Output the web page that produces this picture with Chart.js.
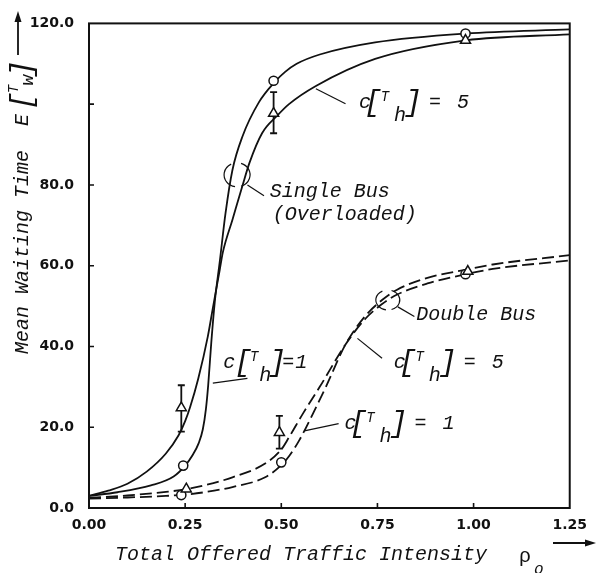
<!DOCTYPE html>
<html>
<head>
<meta charset="utf-8">
<title>Mean Waiting Time vs Offered Traffic</title>
<script src="https://cdn.jsdelivr.net/npm/chart.js@4.4.1/dist/chart.umd.min.js"></script>
<style>
  html, body { margin: 0; padding: 0; background: #fff; }
  #wrap { width: 596px; height: 573px; position: relative; }
</style>
</head>
<body>
<div id="wrap"><canvas id="chart"></canvas></div>
<script>
// axis ranges
const xMin = 0, xMax = 1.25, xStep = 0.25;
const yMin = 0, yMax = 120, yStep = 20;
const yHiddenLabel = 100;

// single bus (overloaded), c[Th] = 1
const singleC1X = [0, 0.074, 0.161, 0.22, 0.25, 0.27, 0.285, 0.296, 0.304, 0.31, 0.318, 0.327, 0.34, 0.355, 0.373, 0.399, 0.442, 0.483, 0.51, 0.54, 0.6, 0.744, 0.98, 1.25];
const singleC1Y = [3.0, 3.9, 5.6, 7.8, 10.5, 13.2, 16, 19.5, 24.5, 30.5, 41, 51, 61, 73, 83.7, 92, 100.5, 105.5, 108, 110, 112.3, 115.3, 117.5, 118.5];

// single bus (overloaded), c[Th] = 5
const singleC5X = [0, 0.05, 0.1, 0.15, 0.2, 0.233, 0.25, 0.263, 0.284, 0.309, 0.322, 0.34, 0.348, 0.373, 0.399, 0.417, 0.45, 0.49, 0.52, 0.59, 0.744, 0.98, 1.25];
const singleC5Y = [3.0, 4.3, 6.0, 9.0, 13.5, 18, 21.5, 25, 32, 42.5, 49.5, 59, 63.3, 71.4, 79.8, 85.4, 92.8, 97.2, 100, 104.5, 111.2, 115.8, 117.3];

// double bus, c[Th] = 1
const doubleC1X = [0, 0.1, 0.2, 0.25, 0.3, 0.373, 0.458, 0.5, 0.52, 0.547, 0.583, 0.616, 0.667, 0.718, 0.762, 0.8, 0.88, 0.98, 1.05, 1.25];
const doubleC1Y = [2.3, 2.6, 3.0, 3.3, 3.9, 5.2, 7.6, 10.6, 12.8, 16.8, 23.5, 30, 40.5, 47.5, 51.5, 54, 57, 59, 60.3, 62.6];

// double bus, c[Th] = 5
const doubleC5X = [0, 0.1, 0.2, 0.25, 0.3, 0.373, 0.458, 0.5, 0.52, 0.557, 0.6, 0.667, 0.718, 0.762, 0.8, 0.88, 0.98, 1.05, 1.25];
const doubleC5Y = [2.5, 3.1, 4.0, 4.6, 5.6, 7.6, 11, 14.5, 17.5, 23.5, 30, 40.5, 46.8, 50.5, 52.8, 55.6, 57.9, 59.2, 61.3];

// simulation results: circles = c[Th] = 1, triangles = c[Th] = 5
const simSingleCircX = [0.245, 0.48, 0.979];
const simSingleCircY = [10.5, 105.8, 117.5];
const simSingleTriX = [0.24, 0.48, 0.979];
const simSingleTriY = [24.8, 97.7, 115.8];
const simSingleTriLo = [18.9, 92.8, null];
const simSingleTriHi = [30.4, 103, null];

const simDoubleCircX = [0.24, 0.5, 0.979];
const simDoubleCircY = [3.2, 11.3, 57.9];
const simDoubleTriX = [0.253, 0.495, 0.985];
const simDoubleTriY = [4.7, 18.7, 58.6];
const simDoubleTriLo = [null, 14.7, null];
const simDoubleTriHi = [null, 22.8, null];

const ink = '#111';
const mono = "'Liberation Mono', 'DejaVu Sans Mono', monospace";

const pts = (xs, ys) => xs.map((x, i) => ({ x: x, y: ys[i] }));

function curve(xs, ys, dashed) {
    return {
        data: pts(xs, ys),
        showLine: true,
        borderColor: ink,
        borderWidth: 1.8,
        borderDash: dashed ? [12, 5] : [],
        pointRadius: 0,
        cubicInterpolationMode: 'monotone',
        order: 2
    };
}

function marks(xs, ys, style) {
    return {
        data: pts(xs, ys),
        showLine: false,
        pointStyle: style,
        pointRadius: style === 'triangle' ? 5.8 : 4.6,
        pointBorderWidth: 1.5,
        pointBorderColor: ink,
        pointBackgroundColor: '#fff',
        order: 1
    };
}

// labels and leader lines, placed in data units
const notes = [
    { type: 'cth', x: 0.71, y: 99.1, val: '5' },
    { type: 'lead', x1: 0.59, y1: 103.8, x2: 0.667, y2: 100.1 },
    { type: 'text', x: 0.47, y: 77.0, text: 'Single Bus' },
    { type: 'text', x: 0.478, y: 71.4, text: '(Overloaded)' },
    { type: 'oval', x: 0.385, y: 82.5, rx: 13, ry: 12 },
    { type: 'lead', x1: 0.412, y1: 80.0, x2: 0.455, y2: 77.3 },
    { type: 'text', x: 0.851, y: 46.6, text: 'Double Bus' },
    { type: 'oval', x: 0.777, y: 51.5, rx: 12, ry: 10 },
    { type: 'lead', x1: 0.803, y1: 49.8, x2: 0.846, y2: 47.4 },
    { type: 'cth', x: 0.8, y: 34.6, val: '5' },
    { type: 'lead', x1: 0.698, y1: 42.0, x2: 0.762, y2: 37.1 },
    { type: 'cth', x: 0.357, y: 34.6, val: '1', compact: true },
    { type: 'lead', x1: 0.322, y1: 30.9, x2: 0.412, y2: 32.1 },
    { type: 'cth', x: 0.672, y: 19.6, val: '1' },
    { type: 'lead', x1: 0.56, y1: 19.1, x2: 0.649, y2: 20.9 }
];

// c[T_h] = n with tall brackets and a subscript h
function drawCTh(ctx, x, y, val, compact) {
    const o = compact ? [17, 28, 39, 51, 62, 75] : [11, 23, 38, 51, 73, 101];
    ctx.textAlign = 'left';
    ctx.font = 'italic 20px ' + mono;
    ctx.fillText('c', x - 3, y);
    ctx.textAlign = 'center';
    ctx.font = 'italic 30px ' + mono;
    ctx.fillText('[', x + o[0], y + 3);
    ctx.font = 'italic 14px ' + mono;
    ctx.fillText('T', x + o[1], y - 7);
    ctx.font = 'italic 20px ' + mono;
    ctx.fillText('h', x + o[2], y + 13);
    ctx.font = 'italic 30px ' + mono;
    ctx.fillText(']', x + o[3], y + 3);
    ctx.font = 'italic 20px ' + mono;
    ctx.fillText('=', x + o[4], y);
    ctx.fillText(val, x + o[5], y);
}

function arrowHead(ctx, x, y, dir) {
    ctx.beginPath();
    if (dir === 'up') {
        ctx.moveTo(x, y); ctx.lineTo(x - 3.5, y + 11); ctx.lineTo(x + 3.5, y + 11);
    } else {
        ctx.moveTo(x, y); ctx.lineTo(x - 11, y - 3.5); ctx.lineTo(x - 11, y + 3.5);
    }
    ctx.closePath();
    ctx.fill();
}

const errorBars = {
    id: 'errorBars',
    beforeDatasetsDraw(chart) {
        const { ctx, scales: { x, y } } = chart;
        const sets = [
            [simSingleTriX, simSingleTriLo, simSingleTriHi],
            [simDoubleTriX, simDoubleTriLo, simDoubleTriHi]
        ];
        ctx.save();
        ctx.strokeStyle = ink;
        ctx.lineWidth = 1.8;
        sets.forEach(([xs, lo, hi]) => {
            xs.forEach((v, i) => {
                if (lo[i] == null) return;
                const px = x.getPixelForValue(v);
                const a = y.getPixelForValue(lo[i]);
                const b = y.getPixelForValue(hi[i]);
                ctx.beginPath();
                ctx.moveTo(px, a); ctx.lineTo(px, b);
                ctx.moveTo(px - 3.5, a); ctx.lineTo(px + 3.5, a);
                ctx.moveTo(px - 3.5, b); ctx.lineTo(px + 3.5, b);
                ctx.stroke();
            });
        });
        ctx.restore();
    }
};

const frame = {
    id: 'frame',
    afterDraw(chart) {
        const { ctx, chartArea: area, scales: { x, y } } = chart;
        ctx.save();
        ctx.strokeStyle = ink;
        ctx.fillStyle = ink;

        // plot box and inward ticks
        ctx.lineWidth = 2;
        ctx.strokeRect(area.left, area.top, area.right - area.left, area.bottom - area.top);
        ctx.lineWidth = 1.6;
        ctx.beginPath();
        for (let v = xMin + xStep; v < xMax; v += xStep) {
            const px = x.getPixelForValue(v);
            ctx.moveTo(px, area.bottom); ctx.lineTo(px, area.bottom - 5);
        }
        for (let v = yMin + yStep; v < yMax; v += yStep) {
            const py = y.getPixelForValue(v);
            ctx.moveTo(area.left, py); ctx.lineTo(area.left + 5, py);
        }
        ctx.stroke();

        // annotations
        ctx.textBaseline = 'alphabetic';
        notes.forEach(n => {
            if (n.type === 'lead') {
                ctx.lineWidth = 1.2;
                ctx.beginPath();
                ctx.moveTo(x.getPixelForValue(n.x1), y.getPixelForValue(n.y1));
                ctx.lineTo(x.getPixelForValue(n.x2), y.getPixelForValue(n.y2));
                ctx.stroke();
            } else if (n.type === 'oval') {
                const cx = x.getPixelForValue(n.x), cy = y.getPixelForValue(n.y);
                ctx.lineWidth = 1.2;
                ctx.beginPath();
                ctx.ellipse(cx, cy, n.rx, n.ry, 0, 0.55 * Math.PI, 1.35 * Math.PI);
                ctx.stroke();
                ctx.beginPath();
                ctx.ellipse(cx, cy, n.rx, n.ry, 0, 1.6 * Math.PI, 2.4 * Math.PI);
                ctx.stroke();
            } else if (n.type === 'text') {
                ctx.textAlign = 'left';
                ctx.font = 'italic 20px ' + mono;
                ctx.fillText(n.text, x.getPixelForValue(n.x), y.getPixelForValue(n.y));
            } else if (n.type === 'cth') {
                drawCTh(ctx, x.getPixelForValue(n.x), y.getPixelForValue(n.y), n.val, n.compact);
            }
        });

        // x axis title with arrow
        ctx.textAlign = 'left';
        ctx.font = 'italic 20px ' + mono;
        ctx.fillText('Total Offered Traffic Intensity', 115, 560);
        ctx.font = '20px ' + mono;
        ctx.fillText('\u03C1', 519, 562);
        ctx.font = 'italic 16px ' + mono;
        ctx.fillText('o', 534, 574);
        ctx.lineWidth = 1.8;
        ctx.beginPath();
        ctx.moveTo(553, 543); ctx.lineTo(586, 543);
        ctx.stroke();
        arrowHead(ctx, 596, 543, 'right');

        // y axis title, rotated, with arrow
        ctx.save();
        ctx.translate(28, 354);
        ctx.rotate(-Math.PI / 2);
        ctx.textAlign = 'left';
        ctx.font = 'italic 20px ' + mono;
        ctx.fillText('Mean Waiting Time  E', 0, 0);
        ctx.textAlign = 'center';
        ctx.font = 'italic 30px ' + mono;
        ctx.fillText('[', 253, 3);
        ctx.font = 'italic 14px ' + mono;
        ctx.fillText('T', 265, -10);
        ctx.font = 'italic 18px ' + mono;
        ctx.fillText('w', 274, 5);
        ctx.font = 'italic 30px ' + mono;
        ctx.fillText(']', 285, 3);
        ctx.restore();
        ctx.lineWidth = 1.8;
        ctx.beginPath();
        ctx.moveTo(18, 55); ctx.lineTo(18, 20);
        ctx.stroke();
        arrowHead(ctx, 18, 11, 'up');

        ctx.restore();
    }
};

const tickFont = { family: "'DejaVu Sans', sans-serif", size: 14, weight: 'bold' };

new Chart(document.getElementById('chart'), {
    type: 'scatter',
    data: {
        datasets: [
            curve(singleC1X, singleC1Y, false),
            curve(singleC5X, singleC5Y, false),
            curve(doubleC1X, doubleC1Y, true),
            curve(doubleC5X, doubleC5Y, true),
            marks(simSingleTriX, simSingleTriY, 'triangle'),
            marks(simSingleCircX, simSingleCircY, 'circle'),
            marks(simDoubleTriX, simDoubleTriY, 'triangle'),
            marks(simDoubleCircX, simDoubleCircY, 'circle')
        ]
    },
    options: {
        responsive: true,
        maintainAspectRatio: false,
        animation: false,
        layout: { padding: { top: 19, right: 18, left: 0, bottom: 0 } },
        plugins: {
            legend: { display: false },
            tooltip: { enabled: false }
        },
        scales: {
            x: {
                type: 'linear',
                min: xMin,
                max: xMax,
                grid: { display: false, drawTicks: false },
                border: { display: false },
                afterFit: s => { s.height = 65; },
                ticks: {
                    stepSize: xStep,
                    padding: 9,
                    color: ink,
                    font: tickFont,
                    callback: v => v.toFixed(2)
                }
            },
            y: {
                type: 'linear',
                min: yMin,
                max: yMax,
                grid: { display: false, drawTicks: false },
                border: { display: false },
                afterFit: s => { s.width = 89; },
                ticks: {
                    stepSize: yStep,
                    padding: 15,
                    color: ink,
                    font: tickFont,
                    callback: v => v === yHiddenLabel ? '' : v.toFixed(1)
                }
            }
        }
    },
    plugins: [errorBars, frame]
});
</script>
</body>
</html>
